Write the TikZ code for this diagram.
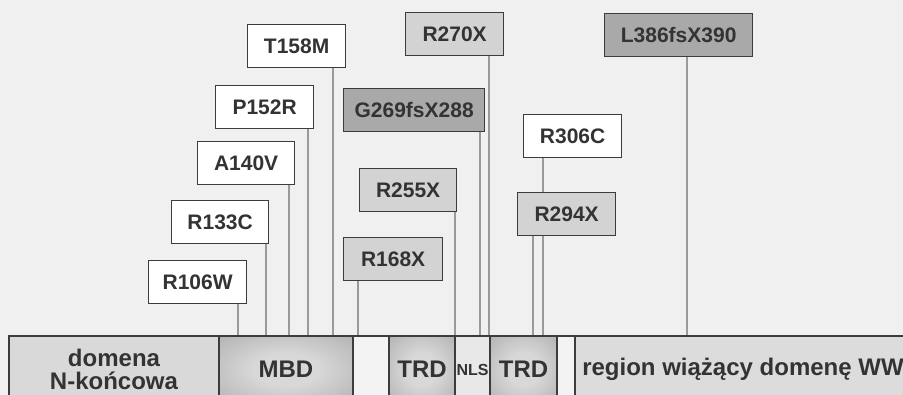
\documentclass[tikz,border=0pt]{standalone}
\usepackage{fontspec}
\setmainfont{Liberation Sans}
\definecolor{bg}{HTML}{F0F0F0}
\definecolor{boxline}{HTML}{3C3C3C}
\definecolor{txt}{HTML}{333333}
\definecolor{lgray}{HTML}{D3D3D3}
\definecolor{dgray}{HTML}{A9A9A9}
\definecolor{vline}{HTML}{9A9A9A}
\definecolor{nterm}{HTML}{D9D9D9}
\definecolor{regfill}{HTML}{DCDCDC}
\definecolor{gapfill}{HTML}{F3F3F3}
\definecolor{nlsfill}{HTML}{E8E8E8}
\definecolor{shin}{HTML}{D8D8D8}
\definecolor{shmid}{HTML}{B4B4B4}
\definecolor{shout}{HTML}{8E8E8E}
\pgfdeclareradialshading{softgray}{\pgfpoint{0bp}{0bp}}{%
  color(0bp)=(shin); color(12bp)=(shin); color(35bp)=(shmid);
  color(50bp)=(shout); color(75bp)=(shout)}
\begin{document}
\begin{tikzpicture}[x=1pt,y=-1pt,
  lab/.style={draw=boxline, line width=1.3pt, text=txt,
    font=\fontsize{21}{24}\selectfont\bfseries,
    minimum height=43pt, inner sep=0pt, anchor=north west},
  wlab/.style={lab, fill=white},
  glab/.style={lab, fill=lgray},
  dlab/.style={lab, fill=dgray},
  seg/.style={draw=boxline, line width=2pt, text=txt,
    font=\fontsize{24}{24}\selectfont\bfseries,
    minimum height=67pt, inner sep=0pt, anchor=north west, align=center},
  shd/.style={seg, shading=softgray},
  conn/.style={draw=vline, line width=1.6pt}]
\clip (0,0) rectangle (903,395);
\fill[bg] (0,0) rectangle (903,395);

% bar coordinates
\foreach \n/\x in {a/238,b/266,c/289,d/308,e/333,f/358,g/455,h/480,i/489,j/533,k/543,l/687}
  \coordinate (p\n) at (\x,335);

% label boxes (positions)
\path
  (247,24)  coordinate (xT158)
  (215,85)  coordinate (xP152)
  (197,141) coordinate (xA140)
  (171,200) coordinate (xR133)
  (148,260) coordinate (xR106)
  (405,12)  coordinate (xR270)
  (343,88)  coordinate (xG269)
  (359,168) coordinate (xR255)
  (343,237) coordinate (xR168)
  (604,13)  coordinate (xL386)
  (523,114) coordinate (xR306)
  (517,192) coordinate (xR294);

% invisible boxes first for connectors
\node[lab, draw=none, minimum width=98pt] (T158M) at (xT158) {};
\node[lab, draw=none, minimum width=98pt] (P152R) at (xP152) {};
\node[lab, draw=none, minimum width=97pt] (A140V) at (xA140) {};
\node[lab, draw=none, minimum width=97pt] (R133C) at (xR133) {};
\node[lab, draw=none, minimum width=98pt] (R106W) at (xR106) {};
\node[lab, draw=none, minimum width=98pt] (R270X) at (xR270) {};
\node[lab, draw=none, minimum width=141pt] (G269) at (xG269) {};
\node[lab, draw=none, minimum width=97pt] (R255X) at (xR255) {};
\node[lab, draw=none, minimum width=99pt] (R168X) at (xR168) {};
\node[lab, draw=none, minimum width=148pt] (L386) at (xL386) {};
\node[lab, draw=none, minimum width=98pt] (R306C) at (xR306) {};
\node[lab, draw=none, minimum width=98pt] (R294X) at (xR294) {};

% connectors
\draw[conn] (R106W.south -| pa) -- (pa);
\draw[conn] (R133C.south -| pb) -- (pb);
\draw[conn] (A140V.south -| pc) -- (pc);
\draw[conn] (P152R.south -| pd) -- (pd);
\draw[conn] (T158M.south -| pe) -- (pe);
\draw[conn] (R168X.south -| pf) -- (pf);
\draw[conn] (R255X.south -| pg) -- (pg);
\draw[conn] (G269.south -| ph) -- (ph);
\draw[conn] (R270X.south -| pi) -- (pi);
\draw[conn] (R294X.south -| pj) -- (pj);
\draw[conn] (R306C.south -| pk) -- (pk);
\draw[conn] (L386.south -| pl) -- (pl);

% visible boxes
\node[wlab, minimum width=98pt] at (xT158) {T158M};
\node[wlab, minimum width=98pt] at (xP152) {P152R};
\node[wlab, minimum width=97pt] at (xA140) {A140V};
\node[wlab, minimum width=97pt] at (xR133) {R133C};
\node[wlab, minimum width=98pt] at (xR106) {R106W};
\node[glab, minimum width=98pt] at (xR270) {R270X};
\node[dlab, minimum width=141pt] at (xG269) {G269fsX288};
\node[glab, minimum width=97pt] at (xR255) {R255X};
\node[glab, minimum width=99pt] at (xR168) {R168X};
\node[dlab, minimum width=148pt] at (xL386) {L386fsX390};
\node[wlab, minimum width=98pt] at (xR306) {R306C};
\node[glab, minimum width=98pt] at (xR294) {R294X};

% domain bar
\node[seg, fill=nterm, minimum width=210pt] (nt) at (8,335) {domena\\[-1pt]N-końcowa};
\node[shd, minimum width=134pt] (mbd) at (218,335) {MBD};
\node[seg, fill=gapfill, minimum width=36pt] (gap1) at (352,335) {};
\node[shd, minimum width=66pt] (trd1) at (388,335) {TRD};
\node[seg, fill=nlsfill, minimum width=35pt, font=\fontsize{16}{16}\selectfont\bfseries] (nls) at (454,335) {NLS};
\node[shd, minimum width=67pt] (trd2) at (489,335) {TRD};
\node[seg, fill=gapfill, minimum width=18pt] (gap2) at (556,335) {};
\node[seg, fill=regfill, minimum width=336pt] (reg) at (574,335) {region wiążący domenę WW};
\end{tikzpicture}
\end{document}
